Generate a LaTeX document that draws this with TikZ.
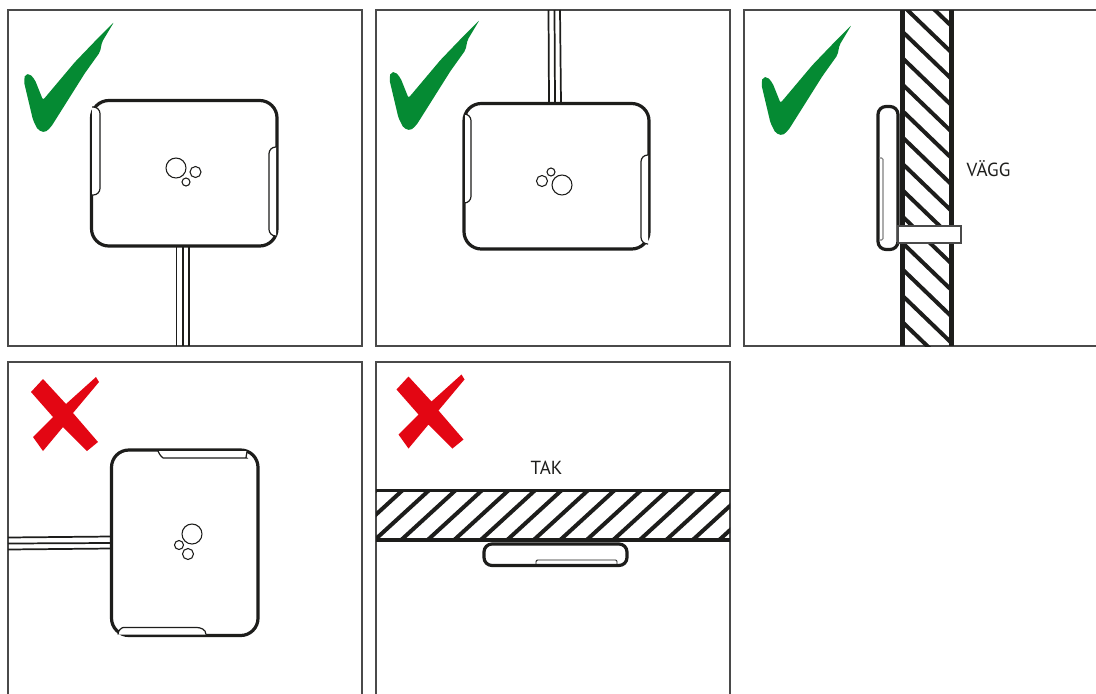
\documentclass[tikz,border=0pt]{standalone}
\usepackage{fontspec}
\setmainfont{PT Sans}
\definecolor{ink}{HTML}{1D1D1B}
\definecolor{frame}{HTML}{4A4A4A}
\definecolor{okgreen}{HTML}{058A33}
\definecolor{nored}{HTML}{E30613}
\tikzset{
  panel/.style={draw=frame,line width=1.15pt},
  body/.style={draw=ink,line width=2.4pt,fill=white,rounded corners=13pt},
  pill/.style={draw=ink,line width=0.9pt,fill=white,rounded corners=5pt},
  lens/.style={draw=ink,line width=0.8pt,fill=white},
  cable/.style={draw=ink,line width=1.3pt},
  wall/.style={draw=ink,line width=3.4pt},
  beam/.style={draw=ink,line width=2.9pt},
  hatch/.style={draw=ink,line width=3pt},
  lbl/.style={text=ink,inner sep=0pt,font=\fontsize{14.2}{16}\selectfont},
  pics/checkmark/.style={code={
    \fill[okgreen,rounded corners=1.5pt] (114,22) -- (102,42) -- (100,52) -- (85,73) -- (51,127) -- (45,132.5) -- (38,130) -- (33,120) -- (24,82) -- (25,74.5) -- (30,74) -- (35,80) -- (43,100) -- (75,62) -- (100,36) -- cycle;
  }},
  pics/crossmark/.style={code={
    \fill[nored] (31,392) -- (43,379) -- (66,404) -- (96,377) -- (99,382) -- (73,413) -- (98,442) -- (87,451) -- (63,427) -- (43,451) -- (33,437) -- (53,417) -- cycle;
  }}
}
\begin{document}
\begin{tikzpicture}[x=0.75pt,y=-0.75pt]
\useasboundingbox (0,0) rectangle (1096,693);
% frames
\draw[panel] (8,10) rectangle (362,346);
\draw[panel] (376,10) rectangle (730,346);
\draw[panel] (1100,10) -- (744,10) -- (744,346) -- (1100,346);
\draw[panel] (8,700) -- (8,362) -- (362,362) -- (362,700);
\draw[panel] (376,700) -- (376,362) -- (730,362) -- (730,700);
% panel 1
\pic at (0,0) {checkmark};
\draw[cable] (176.5,246) -- (176.5,346) (182.7,246) -- (182.7,346) (189,246) -- (189,346);
\draw[body] (91.5,100.5) rectangle (277,246);
\draw[pill] (92,107) -- (100,107) -- (100,195) -- (92,195);
\draw[pill] (276,147) -- (269,147) -- (269,236) -- (276,236);
\draw[lens] (176,168) circle (10);
\draw[lens] (195.5,172) circle (5.5);
\draw[lens] (186,182) circle (4);
% panel 2
\pic at (365.5,-2) {checkmark};
\draw[cable] (548.5,10) -- (549,103) (554.5,10) -- (555,103) (560,10) -- (561,103);
\draw[body] (464,103.5) rectangle (649,249);
\draw[pill] (465,114) -- (471,114) -- (471,203) -- (465,203);
\draw[pill] (648,155) -- (641,155) -- (641,244) -- (648,244);
\draw[lens] (562,185) circle (10);
\draw[lens] (542,181) circle (5.5);
\draw[lens] (551,172) circle (4);
% panel 3
\pic at (737.5,3) {checkmark};
\begin{scope}
\clip (902,10) rectangle (952,346);
\foreach \k in {0,...,13}{
  \draw[hatch] (900,{26.5+26.4*\k-50}) -- (954,{26.5+26.4*\k+2});
}
\end{scope}
\draw[wall] (902.5,10) -- (902.5,346);
\draw[wall] (951.5,10) -- (951.5,346);
\draw[body,rounded corners=6pt] (878,106.5) rectangle (898,249.5);
\draw[draw=gray,line width=0.8pt,rounded corners=1pt] (879,158) -- (883,158) -- (883,240) -- (879,240);
\draw[draw=frame,line width=1.2pt,fill=white] (898,226) rectangle (961,243);
\node[lbl] (vagg) at (988.5,169) {VÄGG};
% panel 4
\pic at (0,0) {crossmark};
\draw[cable] (8,537.5) -- (111,536.5) (8,543.5) -- (111,543) (8,549.5) -- (111,548.5);
\draw[body] (111.5,450) rectangle (258,635.5);
\draw[pill] (158,451) .. controls (160,456) and (163,458) .. (170,458) -- (240,458) .. controls (245,458) and (247,455) .. (247,451);
\draw[pill] (118,634.5) .. controls (118,630) and (122,627.5) .. (130,627.5) -- (190,627.5) .. controls (200,627.5) and (206,629) .. (206,634.5);
\draw[lens] (192,534) circle (10);
\draw[lens] (179,545) circle (4.5);
\draw[lens] (188,554) circle (5.5);
% panel 5
\pic at (365.5,-2.5) {crossmark};
\begin{scope}
\clip (376,490) rectangle (730,540);
\foreach \k in {-1,...,14}{
  \draw[hatch] ({403+26.5*\k+2},488) -- ({348+26.5*\k-2},542);
}
\end{scope}
\draw[beam] (376,490.5) -- (730,490.5);
\draw[beam] (376,540) -- (730,540);
\draw[body,rounded corners=6pt] (484,544) rectangle (627,565.5);
\draw[draw=ink,line width=0.7pt,rounded corners=1pt] (536,564.5) -- (536,560) -- (617,560) -- (617,564.5);
\node[lbl] (tak) at (546.5,467.5) {TAK};
\end{tikzpicture}
\end{document}
